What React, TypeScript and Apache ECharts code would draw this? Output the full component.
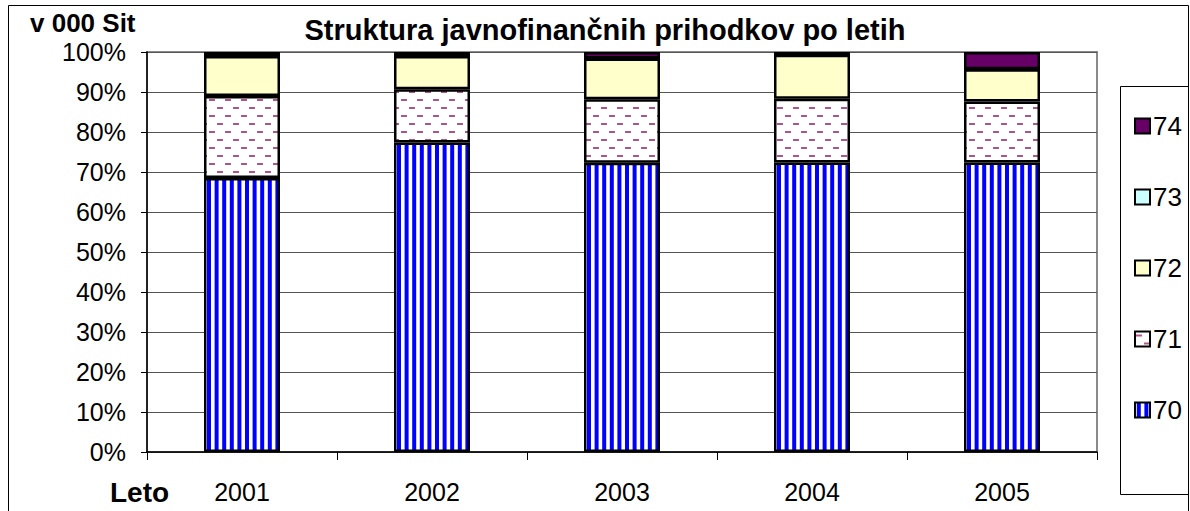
import React, { useEffect, useRef } from "react";
import * as echarts from "echarts";

const years = ["2001", "2002", "2003", "2004", "2005"];
const s70 = [68.5, 77.4, 72.3, 72.4, 72.4];
const s71 = [20.5, 13.3, 15.9, 15.9, 15.2];
const s72 = [10.0, 8.3, 10.2, 11.0, 8.1];
const s73 = [0, 0, 0, 0, 0];
const s74 = [1.0, 1.0, 1.6, 0.7, 4.3];

function stripeCanvas() {
  const c = document.createElement("canvas");
  c.width = 38;
  c.height = 4;
  const ctx = c.getContext("2d")!;
  ctx.fillStyle = "#ffffff";
  ctx.fillRect(0, 0, 38, 4);
  ctx.fillStyle = "#0000ff";
  for (let i = 0; i < 5; i++) ctx.fillRect(i * 7.6 + 1.8, 0, 4, 4);
  return c;
}

function dashCanvas() {
  const c = document.createElement("canvas");
  c.width = 16;
  c.height = 16;
  const ctx = c.getContext("2d")!;
  ctx.fillStyle = "#ffffff";
  ctx.fillRect(0, 0, 16, 16);
  ctx.fillStyle = "#b0558a";
  ctx.fillRect(1, 3, 6, 2);
  ctx.fillRect(9, 11, 6, 2);
  return c;
}

export default function App() {
  const ref = useRef<HTMLDivElement>(null);
  useEffect(() => {
    const chart = echarts.init(ref.current!, null, { renderer: "svg" });
    const stripes = { image: stripeCanvas(), repeat: "repeat" } as any;
    const dashes = { image: dashCanvas(), repeat: "repeat" } as any;
    const font = "Arial, 'Liberation Sans', sans-serif";
    const mk = (name: string, data: number[], color: any) => ({
      name,
      type: "bar",
      stack: "all",
      data,
      barWidth: "40%",
      itemStyle: { color, borderColor: "#000", borderWidth: 2.5 },
    });
    chart.setOption({
      animation: false,
      backgroundColor: "#fff",
      textStyle: { fontFamily: font },
      grid: {
        left: 147,
        top: 52,
        right: 93,
        bottom: 59,
        show: true,
        borderColor: "#8a8a8a",
        borderWidth: 2,
        backgroundColor: "transparent",
      },
      xAxis: {
        type: "category",
        data: years,
        axisLine: { lineStyle: { color: "#000", width: 1.5 } },
        axisTick: { show: true, alignWithLabel: false, length: 8, lineStyle: { color: "#000" } },
        axisLabel: { fontSize: 25, color: "#000", margin: 27, fontFamily: font },
      },
      yAxis: {
        type: "value",
        min: 0,
        max: 100,
        interval: 10,
        axisLine: { show: true, lineStyle: { color: "#000", width: 1.5 } },
        axisTick: { show: true, length: 6, lineStyle: { color: "#000" } },
        axisLabel: { fontSize: 25, color: "#000", margin: 21, formatter: "{value}%", fontFamily: font },
        splitLine: { show: true, lineStyle: { color: "#555", width: 1 } },
      },
      legend: {
        orient: "vertical",
        left: 1129,
        top: 108,
        icon: "rect",
        itemWidth: 15,
        itemHeight: 15,
        itemGap: 45,
        data: ["74", "73", "72", "71", "70"],
        textStyle: { fontSize: 26, color: "#000", fontFamily: font, padding: [0, 0, 0, -2] },
        itemStyle: { borderColor: "#000", borderWidth: 2 },
      },
      graphic: [
        {
          type: "rect",
          shape: { x: 8.5, y: 5.5, width: 1180, height: 530 },
          style: { fill: "none", stroke: "#000", lineWidth: 1 },
          silent: true,
          z: -1,
        },
        {
          type: "rect",
          shape: { x: 1120.5, y: 86.5, width: 68, height: 408 },
          style: { fill: "none", stroke: "#000", lineWidth: 1 },
          silent: true,
        },
        {
          type: "text",
          x: 30,
          y: 23,
          style: { text: "v 000 Sit", font: `bold 26px ${font}`, fill: "#000", verticalAlign: "middle" },
        },
        {
          type: "text",
          x: 605,
          y: 30,
          style: {
            text: "Struktura javnofinančnih prihodkov po letih",
            font: `bold 29px ${font}`,
            fill: "#000",
            align: "center",
            verticalAlign: "middle",
          },
        },
        {
          type: "text",
          x: 110,
          y: 492,
          style: { text: "Leto", font: `bold 28px ${font}`, fill: "#000", verticalAlign: "middle" },
        },
      ],
      series: [
        mk("70", s70, stripes),
        mk("71", s71, dashes),
        mk("72", s72, "#ffffcc"),
        mk("73", s73, "#ccffff"),
        mk("74", s74, "#660066"),
      ],
    });
    return () => chart.dispose();
  }, []);
  return (
    <div
      ref={ref}
      style={{ position: "absolute", left: 0, top: 0, width: 1190, height: 511 }}
    />
  );
}
